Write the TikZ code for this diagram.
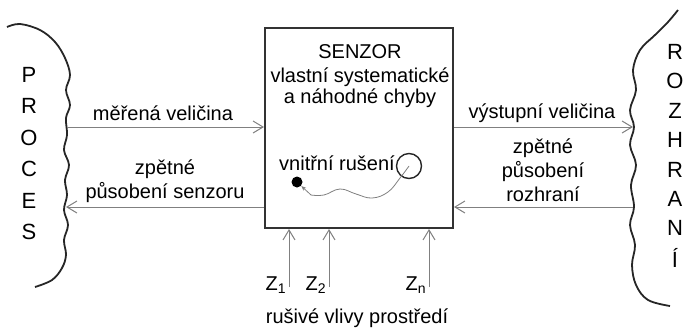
\documentclass[tikz,border=0pt]{standalone}
\usepackage{fontspec}
\setmainfont{Liberation Sans}
\usetikzlibrary{arrows.meta}
\begin{document}
\begin{tikzpicture}[x=0.5pt,y=-0.5pt,
  font=\fontsize{10}{12}\selectfont,
  signal/.style={draw=black!50, line width=0.5pt,
    -{Straight Barb[length=5pt,width=6pt,line width=0.5pt]}},
  edge/.style={draw=black!85, line width=0.9pt},
  lbl/.style={inner sep=0pt, align=center},
  letter/.style={inner sep=0pt, font=\fontsize{11}{12}\selectfont}]
\useasboundingbox (0,0) rectangle (688,327);

% sensor block
\node[draw=black!80, line width=1pt, minimum width=94pt, minimum height=100pt,
      inner sep=0pt] (box) at (359,128) {};
\node[lbl] (title) at (360,52) {SENZOR};
\node[lbl] (err1) at (360,77) {vlastní systematické};
\node[lbl] (err2) at (360,98) {a náhodné chyby};
\node[lbl] (noise) at (337,163) {vnitřní rušení};
\node[draw=black!85, circle, line width=0.7pt, minimum size=12.5pt, inner sep=0pt] (src) at (409,166) {};
\node[fill=black, circle, minimum size=5.5pt, inner sep=0pt] (dot) at (297,182) {};
\draw[draw=black!50, line width=0.4pt, -{Stealth[length=2.5pt,width=2pt]}]
  plot[smooth, tension=0.7] coordinates {(src.center) (400,178) (388,192) (372,198) (356,194) (340,189) (324,195) (311,195)} -- (dot);

% process boundary
\draw[edge] plot[smooth, tension=0.6] coordinates {(7,27) (20,24) (40,30) (55,42) (65,58) (70,75) (66,90) (70,105) (66,118) (67,135) (64,150) (69,165) (65,180) (67,195) (64,210) (68,225) (64,240) (66,255) (62,268) (52,280) (35,287)};
\coordinate (pin) at (67,127);
\coordinate (pfb) at (66,207);
\foreach \c [count=\i from 0] in {P,R,O,C,E,S}
  \node[letter] (p\i) at (29,{75+31.4*\i}) {\c};

% interface boundary
\draw[edge] plot[smooth, tension=0.6] coordinates {(678,10) (668,22) (655,35) (640,50) (633,70) (636,90) (630,110) (634,127) (630,145) (636,165) (631,185) (634,207) (630,225) (635,245) (632,265) (636,285) (648,300) (670,306)};
\coordinate (rin) at (633,127);
\coordinate (rfb) at (633,207);
\foreach \c [count=\i from 0] in {R,O,Z,H,R,A,N,Í}
  \node[letter] (r\i) at (675,{52+29.4*\i}) {\c};

% signal paths
\draw[signal] (pin) -- (box.west |- pin);
\draw[signal] (box.west |- pfb) -- (pfb);
\draw[signal] (box.east |- rin) -- (rin);
\draw[signal] (rfb) -- (box.east |- rfb);

\node[lbl] (meas) at (163,113) {měřená veličina};
\node[lbl, align=center] (sfb) at (165,181) {zpětné\\působení senzoru};
\node[lbl] (out) at (542,113) {výstupní veličina};
\node[lbl, align=center] (ifb) at (543,170) {zpětné\\působení\\rozhraní};

% environmental disturbances
\coordinate (z1) at (289,287);
\coordinate (z2) at (329,287);
\coordinate (zn) at (429,287);
\draw[signal] (z1) -- (box.south -| z1);
\draw[signal] (z2) -- (box.south -| z2);
\draw[signal] (zn) -- (box.south -| zn);
\node[lbl, anchor=base east] (z1l) at (287,290) {Z\textsubscript{1}};
\node[lbl, anchor=base east] (z2l) at (327,290) {Z\textsubscript{2}};
\node[lbl, anchor=base east] (znl) at (427,290) {Z\textsubscript{n}};
\node[lbl] (env) at (357,318) {rušivé vlivy prostředí};
\end{tikzpicture}
\end{document}
